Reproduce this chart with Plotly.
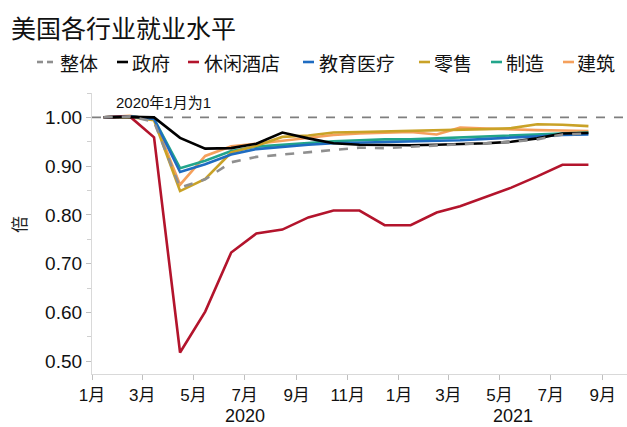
import pandas as pd
import plotly.graph_objects as go

# Monthly employment index, Jan 2020 = 1 (Jan 2020 .. Aug 2021)
months = pd.date_range("2020-01-01", periods=20, freq="MS") + pd.Timedelta(days=14)

total      = [1.000, 1.002, 0.991, 0.856, 0.873, 0.908, 0.919, 0.924, 0.929, 0.934,
              0.938, 0.937, 0.940, 0.943, 0.945, 0.947, 0.950, 0.955, 0.965, 0.967]
government = [1.000, 1.001, 1.000, 0.958, 0.936, 0.937, 0.946, 0.969, 0.957, 0.947,
              0.944, 0.943, 0.943, 0.944, 0.945, 0.947, 0.950, 0.957, 0.967, 0.968]
leisure    = [1.000, 1.002, 0.959, 0.518, 0.602, 0.723, 0.762, 0.770, 0.795, 0.809,
              0.809, 0.779, 0.779, 0.805, 0.818, 0.838, 0.856, 0.879, 0.903, 0.903]
edu_health = [1.000, 1.002, 0.997, 0.888, 0.904, 0.924, 0.935, 0.940, 0.944, 0.947,
              0.948, 0.949, 0.950, 0.952, 0.953, 0.956, 0.958, 0.961, 0.964, 0.965]
retail     = [1.000, 1.001, 0.994, 0.849, 0.874, 0.928, 0.942, 0.960, 0.963, 0.969,
              0.970, 0.971, 0.973, 0.974, 0.975, 0.976, 0.978, 0.986, 0.985, 0.982]
manufact   = [1.000, 1.002, 0.997, 0.896, 0.911, 0.931, 0.940, 0.944, 0.948, 0.951,
              0.953, 0.955, 0.955, 0.957, 0.960, 0.962, 0.963, 0.966, 0.968, 0.969]
construct  = [1.000, 1.003, 0.996, 0.862, 0.921, 0.941, 0.946, 0.952, 0.958, 0.964,
              0.967, 0.969, 0.970, 0.965, 0.979, 0.977, 0.975, 0.974, 0.973, 0.972]

names = ["整体", "政府", "休闲酒店", "教育医疗", "零售", "制造", "建筑"]
series = [total, government, leisure, edu_health, retail, manufact, construct]
colors = ["#8f8f8f", "#000000", "#b3142c", "#1f6cc1", "#c9a227", "#22a58b", "#f5a05c"]
dashes = ["dash", "solid", "solid", "solid", "solid", "solid", "solid"]

tick_dates = pd.date_range("2020-01-01", "2021-09-01", freq="2MS")
tick_text = ["1月", "3月", "5月", "7月", "9月", "11月", "1月", "3月", "5月", "7月", "9月"]
years = ["2020", "2021"]
year_centers = ["2020-07-02", "2021-05-17"]

CJK = "Noto Sans CJK SC"
NUM = "Liberation Sans, Noto Sans CJK SC"

fig = go.Figure()

# draw order: sectors first, government and total on top
draw_order = [6, 5, 4, 3, 2, 1, 0]
for i in draw_order:
    fig.add_trace(go.Scatter(
        x=months, y=series[i], name=names[i], mode="lines",
        line=dict(color=colors[i], width=2.6, dash=dashes[i]),
        showlegend=False,
    ))

# reference line at 1.0
fig.add_shape(type="line", xref="paper", yref="y", x0=0, x1=1, y0=1.0, y1=1.0,
              line=dict(color="#7f7f7f", width=1.6, dash="dash"), layer="below")

L, R, T, B = 92, 0, 93, 53
W, H = 627, 427
pw, ph = W - L - R, H - T - B


def px_x(px):
    return (px - L) / pw


def px_y(py):
    return (H - B - py) / ph


# legend drawn as line swatches + labels along the top
legend_pos = [(37, 58), (117, 130), (188, 202), (303, 317), (419, 432), (491, 504), (563, 575)]
legend_y = 62
for i, (sx, tx) in enumerate(legend_pos):
    if dashes[i] == "dash":
        for a in (sx, sx + 10):
            fig.add_shape(type="line", xref="paper", yref="paper",
                          x0=px_x(a), x1=px_x(a + 6), y0=px_y(legend_y), y1=px_y(legend_y),
                          line=dict(color=colors[i], width=2.6))
    else:
        fig.add_shape(type="line", xref="paper", yref="paper",
                      x0=px_x(sx), x1=px_x(sx + 11), y0=px_y(legend_y), y1=px_y(legend_y),
                      line=dict(color=colors[i], width=2.6))
    fig.add_annotation(xref="paper", yref="paper", x=px_x(tx), y=px_y(legend_y),
                       text=names[i], showarrow=False, xanchor="left", yanchor="middle",
                       font=dict(family=CJK, size=19, color="#111111"))

# title
fig.add_annotation(xref="paper", yref="paper", x=px_x(9), y=px_y(27), text="美国各行业就业水平",
                   showarrow=False, xanchor="left", yanchor="middle",
                   font=dict(family=CJK, size=25, color="#111111"))

# base note
fig.add_annotation(xref="paper", yref="paper", x=px_x(114), y=px_y(102), text="2020年1月为1",
                   showarrow=False, xanchor="left", yanchor="middle",
                   font=dict(family=NUM, size=15, color="#111111"))

# y-axis unit
fig.add_annotation(xref="paper", yref="paper", x=px_x(18), y=px_y(225), text="倍",
                   showarrow=False, textangle=-90, xanchor="center", yanchor="middle",
                   font=dict(family=CJK, size=17, color="#222222"))

# year labels
for yr, c in zip(years, year_centers):
    fig.add_annotation(xref="x", yref="paper", x=c, y=px_y(416), text=yr,
                       showarrow=False, xanchor="center", yanchor="middle",
                       font=dict(family=NUM, size=18, color="#111111"))

fig.update_layout(
    width=W, height=H,
    margin=dict(l=L, r=R, t=T, b=B),
    paper_bgcolor="white", plot_bgcolor="white",
    xaxis=dict(
        type="date", range=["2020-01-01", "2021-09-30"],
        tickvals=list(tick_dates), ticktext=tick_text,
        showgrid=False, zeroline=False,
        showline=True, linecolor="#d9d9d9", linewidth=1.2,
        ticks="outside", ticklen=5, tickcolor="#bfbfbf",
        tickfont=dict(family=NUM, size=17, color="#111111"),
    ),
    yaxis=dict(
        range=[0.474, 1.05], tickvals=[0.5, 0.6, 0.7, 0.8, 0.9, 1.0], tickformat=".2f",
        showgrid=False, zeroline=False,
        showline=True, linecolor="#d9d9d9", linewidth=1.2,
        ticks="outside", ticklen=5, tickcolor="#bfbfbf",
        minor=dict(tickvals=[0.55, 0.65, 0.75, 0.85, 0.95, 1.05], ticks="outside",
                   ticklen=4, tickcolor="#d0d0d0"),
        tickfont=dict(family=NUM, size=19, color="#111111"),
    ),
)

fig.write_html("out.html")
